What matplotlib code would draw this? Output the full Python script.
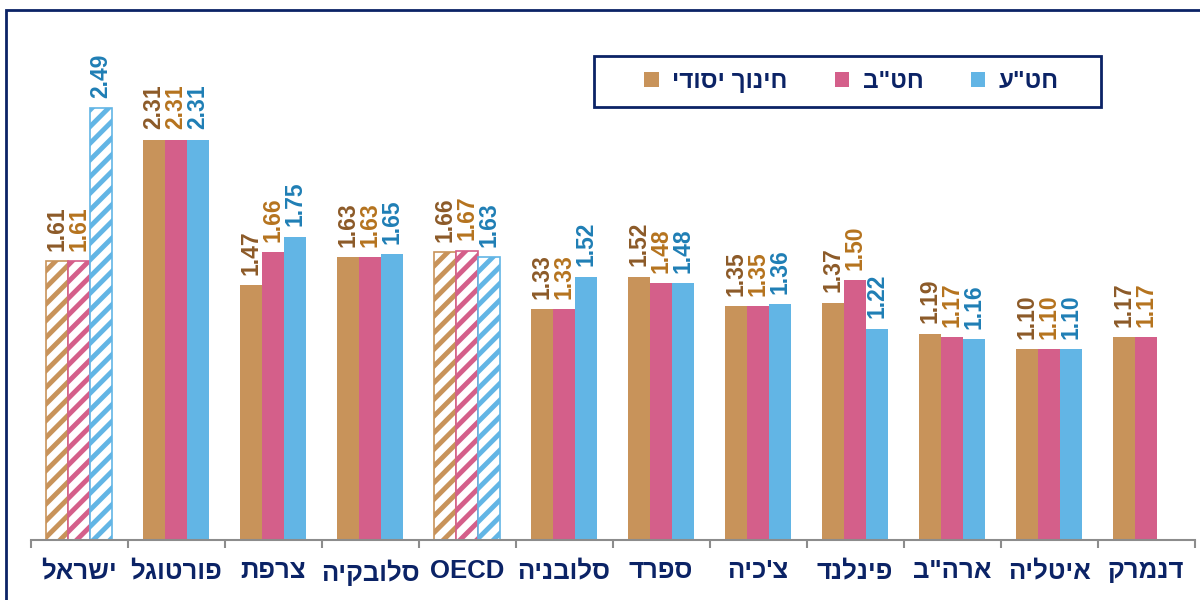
"""
Grouped bar chart: three school levels per country, Hebrew labels (RTL reversed by hand).
"""
import numpy as np
import matplotlib
matplotlib.use('Agg')
import matplotlib.pyplot as plt
from matplotlib.patches import Patch, Rectangle

plt.rcParams['font.family'] = ['Liberation Sans', 'DejaVu Sans']
plt.rcParams['hatch.linewidth'] = 3.5

# Data (logical Hebrew order; reversed for drawing since matplotlib has no bidi)
countries = ['ישראל', 'פורטוגל', 'צרפת', 'סלובקיה', 'OECD', 'סלובניה',
             'ספרד', "צ'כיה", 'פינלנד', 'ארה"ב', 'איטליה', 'דנמרק']
primary = [1.61, 2.31, 1.47, 1.63, 1.66, 1.33, 1.52, 1.35, 1.37, 1.19, 1.10, 1.17]
lower_sec = [1.61, 2.31, 1.66, 1.63, 1.67, 1.33, 1.48, 1.35, 1.50, 1.17, 1.10, 1.17]
upper_sec = [2.49, 2.31, 1.75, 1.65, 1.63, 1.52, 1.48, 1.36, 1.22, 1.16, 1.10, np.nan]
series_names = ['חינוך יסודי', 'חט"ב', 'חט"ע']
hatched = ['ישראל', 'OECD']

NAVY = '#0B2366'
BAR_COLORS = ['#C8935A', '#D45F8A', '#62B5E5']
LABEL_COLORS = ['#8C5A28', '#B5731E', '#1F7EB5']


def rtl(s):
    # crude visual reordering: pure Hebrew strings just get reversed
    if any('\u0590' <= ch <= '\u05FF' for ch in s):
        return s[::-1]
    return s


fig = plt.figure(figsize=(12, 6), dpi=100)
ax = fig.add_axes([0.0255, 0.1, 0.97, 0.8667])

x = np.arange(len(countries))
bar_w = 0.227
series = [primary, lower_sec, upper_sec]

for k, vals in enumerate(series):
    xs = x + (k - 1) * bar_w
    for i, v in enumerate(vals):
        if np.isnan(v):
            continue
        if countries[i] in hatched:
            ax.bar(xs[i], v, bar_w, facecolor='white', edgecolor=BAR_COLORS[k],
                   hatch='//', linewidth=1.2)
        else:
            ax.bar(xs[i], v, bar_w, color=BAR_COLORS[k], linewidth=0)
        ax.annotate(f"{v:.2f}", xy=(xs[i], v), xytext=(0, 7.5),
                    textcoords='offset points', rotation=90,
                    ha='center', va='bottom', fontsize=16.5, fontweight='bold',
                    color=LABEL_COLORS[k])

ax.set_xlim(-0.5, len(countries) - 0.5)
ax.set_ylim(0, 3.0)

for side in ['top', 'right', 'left']:
    ax.spines[side].set_visible(False)
ax.spines['bottom'].set_color('#8C8C8C')
ax.spines['bottom'].set_linewidth(1.5)

ax.set_yticks([])
ax.set_xticks(x)
ax.set_xticklabels([rtl(c) for c in countries], fontsize=18.5,
                   fontweight='bold', color=NAVY)
ax.tick_params(axis='x', which='major', length=0, pad=14)
ax.set_xticks(np.arange(len(countries) + 1) - 0.5, minor=True)
ax.tick_params(axis='x', which='minor', length=6, width=1.5, color='#8C8C8C')

# legend without frame, box drawn separately so the padding matches
handles = [Patch(facecolor=c, edgecolor='none') for c in BAR_COLORS]
leg = ax.legend(handles, [rtl(s) for s in series_names], ncol=3,
                loc='center left', bbox_to_anchor=(0.5367, 0.864),
                bbox_transform=fig.transFigure,
                prop={'size': 17.5, 'weight': 'bold'},
                handlelength=0.6, handleheight=0.6, handletextpad=0.55,
                columnspacing=1.95, borderpad=0, borderaxespad=0,
                frameon=False)
for t in leg.get_texts():
    t.set_color(NAVY)
fig.add_artist(Rectangle((594 / 1200, 1 - 107 / 600), 507 / 1200, 51 / 600,
                         transform=fig.transFigure, fill=False,
                         edgecolor=NAVY, linewidth=2))

# outer frame (cut off on the right and bottom, as in the source)
fig.add_artist(Rectangle((0.005, -0.1), 1.2, 1.0833, transform=fig.transFigure,
                         fill=False, edgecolor=NAVY, linewidth=2))

fig.savefig('out.png', dpi=100)
